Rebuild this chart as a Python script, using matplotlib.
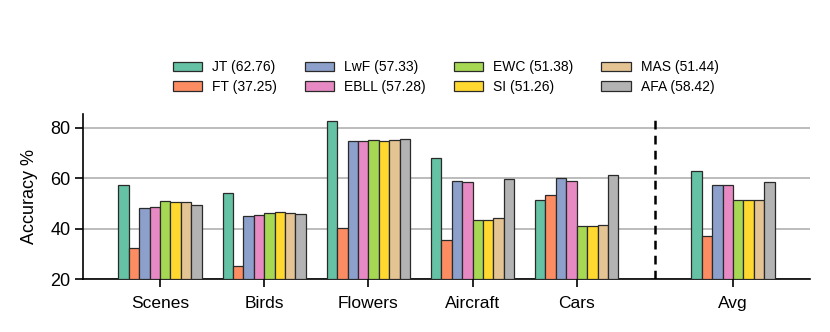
import matplotlib
matplotlib.use("Agg")
import matplotlib.pyplot as plt
import numpy as np

categories = ["Scenes", "Birds", "Flowers", "Aircraft", "Cars", "Avg"]
methods = ["JT", "FT", "LwF", "EBLL", "EWC", "SI", "MAS", "AFA"]
avg_labels = ["62.76", "37.25", "57.33", "57.28", "51.38", "51.26", "51.44", "58.42"]

JT   = [57.2, 54.2, 82.6, 68.2, 51.5, 62.76]
FT   = [32.2, 25.2, 40.1, 35.4, 53.4, 37.25]
LwF  = [48.1, 45.2, 74.9, 58.8, 60.0, 57.33]
EBLL = [48.7, 45.6, 74.6, 58.4, 59.1, 57.28]
EWC  = [50.9, 46.2, 75.1, 43.6, 41.1, 51.38]
SI   = [50.5, 46.5, 74.8, 43.4, 41.1, 51.26]
MAS  = [50.5, 46.1, 75.1, 44.1, 41.3, 51.44]
AFA  = [49.4, 46.0, 75.7, 59.7, 61.3, 58.42]
series = [JT, FT, LwF, EBLL, EWC, SI, MAS, AFA]

colors = ["#66c2a5", "#fc8d62", "#8da0cb", "#e78ac3",
          "#a6d854", "#ffd92f", "#e5c494", "#b3b3b3"]

plt.rcParams['font.family'] = ['Liberation Sans', 'DejaVu Sans']

fig = plt.figure(figsize=(8.3, 3.32), dpi=100)
ax = fig.add_axes([0.1, 0.1596, 0.876, 0.497])

xpos = np.array([0, 1, 2, 3, 4, 5.5])
width = 0.1
for i, (m, vals) in enumerate(zip(methods, series)):
    offs = (i - 3.5) * width
    ax.bar(xpos + offs, np.array(vals) - 20, width, bottom=20,
           color=colors[i], edgecolor="#2a2a2a", linewidth=0.9,
           label=f"{m} ({avg_labels[i]})", zorder=3)

ax.axvline(4.75, color="black", linestyle=(0, (3.5, 2.5)), linewidth=1.8, zorder=4)

ax.set_xlim(-0.74, 6.24)
ax.set_ylim(20, 85.5)
ax.set_yticks([20, 40, 60, 80])
ax.set_xticks(xpos)
ax.set_xticklabels(categories, fontsize=12.5)
ax.tick_params(axis='y', labelsize=13, length=6, width=1.2, direction='out', pad=3)
ax.tick_params(axis='x', length=6, width=1.2, direction='out', pad=6)
ax.set_ylabel("Accuracy %", fontsize=13, labelpad=9)
ax.yaxis.grid(True, color="#b0b0b0", linewidth=1.2, zorder=0)
ax.set_axisbelow(True)
for s in ["top", "right"]:
    ax.spines[s].set_visible(False)
for s in ["left", "bottom"]:
    ax.spines[s].set_linewidth(1.2)

handles, labels = ax.get_legend_handles_labels()
fig.legend(handles, labels, ncol=4, loc="center", bbox_to_anchor=(0.537, 0.768),
           frameon=False, fontsize=10, handlelength=2.1, handleheight=0.65,
           columnspacing=2.0, labelspacing=0.4, handletextpad=0.75)

fig.savefig("out.png", dpi=100)
